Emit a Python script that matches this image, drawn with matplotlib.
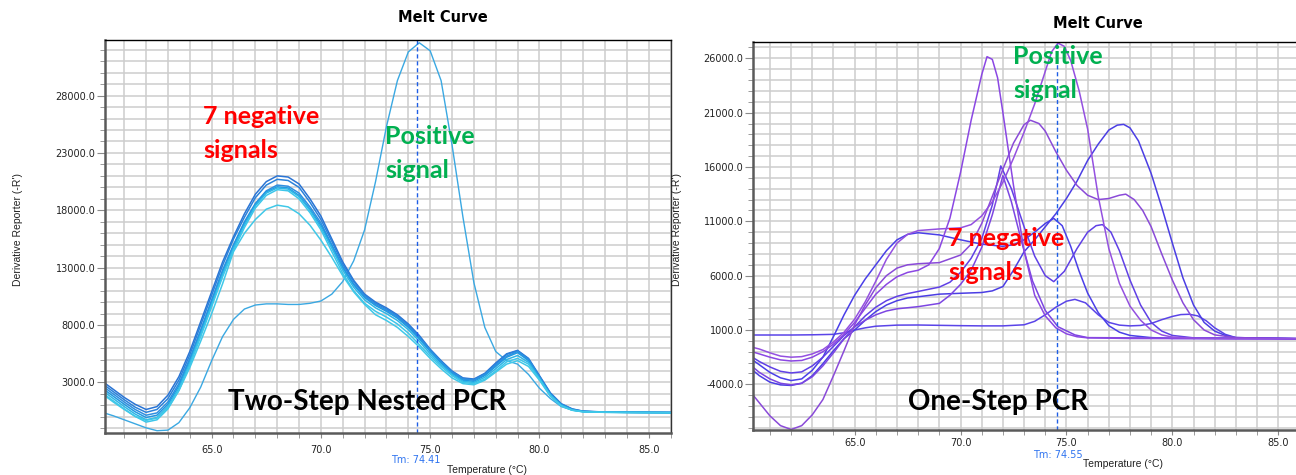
import matplotlib
matplotlib.use("Agg")
import matplotlib.pyplot as plt
from matplotlib.ticker import MultipleLocator, FormatStrFormatter

# ---------------- left panel : Two-Step Nested PCR ----------------
t_left = [60.0, 60.5, 61.0, 61.5, 62.0, 62.5, 63.0, 63.5, 64.0, 64.5, 65.0, 65.5,
          66.0, 66.5, 67.0, 67.5, 68.0, 68.5, 69.0, 69.5, 70.0, 70.5, 71.0, 71.5,
          72.0, 72.5, 73.0, 73.5, 74.0, 74.5, 75.0, 75.5, 76.0, 76.5, 77.0, 77.5,
          78.0, 78.5, 79.0, 79.5, 80.0, 80.5, 81.0, 81.5, 82.0, 83.0, 84.0, 85.0, 86.0]

neg1 = [3100, 2400, 1700, 1100, 650, 900, 1900, 3500, 5700, 8300, 10900, 13500,
        15700, 17700, 19400, 20500, 21000, 20900, 20300, 19000, 17500, 15500, 13500, 11900,
        10700, 10000, 9500, 8900, 8100, 7100, 5900, 4900, 4000, 3400, 3300, 3800,
        4700, 5500, 5800, 5100, 3600, 2100, 1150, 700, 500, 430, 410, 400, 390]
neg2 = [2900, 2200, 1500, 850, 400, 650, 1600, 3200, 5400, 8000, 10600, 13200,
        15500, 17400, 19100, 20200, 20700, 20600, 20000, 18700, 17200, 15300, 13300, 11800,
        10600, 9900, 9400, 8800, 8000, 7000, 5850, 4850, 3950, 3350, 3250, 3750,
        4600, 5450, 5750, 5050, 3550, 2050, 1100, 680, 490, 425, 405, 395, 385]
neg3 = [2700, 2000, 1300, 650, 150, 350, 1300, 2900, 5100, 7600, 10200, 12800,
        15000, 17000, 18600, 19700, 20200, 20100, 19500, 18300, 16900, 15000, 13100, 11600,
        10500, 9800, 9300, 8700, 7900, 6900, 5800, 4800, 3900, 3300, 3200, 3700,
        4500, 5300, 5700, 5000, 3500, 2000, 1100, 650, 480, 420, 400, 390, 380]
neg4 = [2500, 1800, 1100, 450, -50, 150, 1100, 2700, 4900, 7400, 10000, 12600,
        14900, 16900, 18500, 19600, 20050, 19950, 19300, 18100, 16700, 14900, 13000, 11500,
        10400, 9700, 9200, 8600, 7800, 6800, 5700, 4700, 3800, 3200, 3100, 3600,
        4400, 5200, 5600, 4900, 3400, 1950, 1050, 620, 470, 415, 400, 390, 380]
neg5 = [2300, 1600, 900, 250, -250, -50, 900, 2500, 4700, 7200, 9800, 12400,
        14700, 16700, 18400, 19500, 19950, 19850, 19200, 18000, 16500, 14700, 12800, 11300,
        10200, 9500, 9000, 8400, 7600, 6600, 5500, 4550, 3700, 3100, 3000, 3450,
        4200, 5000, 5350, 4750, 3350, 1900, 1000, 600, 460, 410, 395, 385, 375]
neg6 = [2100, 1400, 700, 50, -450, -250, 700, 2300, 4500, 7000, 9600, 12200,
        14500, 16500, 18200, 19300, 19800, 19700, 19000, 17800, 16300, 14400, 12500, 11000,
        9900, 9200, 8700, 8100, 7300, 6300, 5300, 4400, 3600, 3000, 2900, 3300,
        4000, 4800, 5100, 4600, 3300, 1850, 980, 590, 450, 405, 390, 380, 370]
neg7 = [2000, 1300, 650, 50, -300, -100, 800, 2300, 4300, 6600, 9000, 11600,
        14400, 16000, 17200, 18100, 18450, 18300, 17700, 16700, 15400, 13900, 12300, 10900,
        9800, 8900, 8400, 7800, 7000, 6100, 5100, 4200, 3400, 2900, 2800, 3200,
        3900, 4600, 4900, 4400, 3200, 1800, 950, 580, 440, 400, 385, 375, 365]
pos_left = [400, 100, -250, -600, -950, -1200, -1150, -500, 800, 2600, 4900, 7000,
            8500, 9400, 9750, 9850, 9850, 9800, 9800, 9900, 10100, 10700, 11800, 13600,
            16300, 20500, 25300, 29300, 31800, 32600, 31900, 29300, 23700, 17400, 11700, 7800,
            5700, 4900, 4600, 3700, 2500, 1600, 900, 600, 480, 420, 400, 390, 380]

neg_left = [neg1, neg2, neg3, neg4, neg5, neg6, neg7]
neg_left_colors = ['#2a74d4', '#2b82da', '#2f8fe0', '#2098e2', '#2fb6e6', '#3cc6ea', '#40c8e8']
tm_left = 74.41

# ---------------- right panel : One-Step PCR ----------------
a_t = [60.0, 60.5, 61.0, 61.5, 62.0, 62.5, 63.0, 63.5, 64.0, 64.5, 65.0, 65.5, 66.0, 66.5,
       67.0, 67.5, 68.0, 68.5, 69.0, 69.5, 70.0, 70.5, 71.0, 71.25, 71.5, 71.75, 72.0, 72.5,
       73.0, 73.5, 74.0, 74.5, 75.0, 75.5, 76.0, 78.0, 82.0, 86.0]
a_y = [-900, -1200, -1500, -1750, -1850, -1800, -1500, -1000, -300, 600, 1700, 3000, 4300, 5200,
       5900, 6300, 6500, 7000, 8500, 11300, 15500, 20300, 24500, 26150, 25900, 24200, 21000, 14300,
       8300, 4200, 2300, 1200, 650, 380, 280, 220, 200, 200]

b_t = [60.0, 60.5, 61.0, 61.5, 62.0, 62.5, 63.0, 63.5, 64.0, 64.5, 65.0, 65.5, 66.0, 66.5,
       67.0, 67.5, 68.0, 69.0, 70.0, 70.5, 71.0, 71.5, 72.0, 72.5, 73.0, 73.5, 74.0, 74.3,
       74.6, 74.9, 75.2, 75.6, 76.0, 76.5, 77.0, 77.5, 78.0, 78.5, 79.0, 79.5, 80.0, 81.0, 83.0, 86.0]
b_y = [-500, -750, -1100, -1400, -1500, -1450, -1200, -800, -100, 800, 2000, 3600, 5500, 7500,
       9000, 9800, 10150, 10300, 10400, 10700, 11500, 12800, 14600, 16800, 19200, 21800, 24800, 26600,
       27400, 27100, 25800, 23000, 19500, 13300, 8500, 5300, 3200, 1900, 1000, 550, 350, 250, 200, 200]

c_t = [60.0, 60.5, 61.0, 61.5, 62.0, 62.5, 63.0, 63.5, 64.0, 64.5, 65.0, 65.5, 66.0, 66.5,
       67.0, 67.5, 68.0, 69.0, 70.0, 70.5, 71.0, 71.5, 72.0, 72.5, 73.0, 73.3, 73.7, 74.0,
       74.5, 75.0, 75.5, 76.0, 76.5, 77.0, 77.5, 77.8, 78.2, 78.6, 79.0, 79.5, 80.0, 80.5,
       81.0, 81.5, 82.0, 83.0, 86.0]
c_y = [-4500, -5700, -6900, -7800, -8150, -7800, -6800, -5400, -3200, -900, 1500, 3300, 4900, 6000,
       6700, 7000, 7100, 7200, 7900, 8900, 10800, 13300, 15800, 18200, 19900, 20300, 20000, 19300,
       17400, 15700, 14300, 13400, 13000, 13100, 13400, 13500, 13000, 12000, 10500, 8000, 5600, 3500,
       1950, 1000, 550, 300, 200]

d_t = [60.0, 60.5, 61.0, 61.5, 62.0, 62.5, 63.0, 63.5, 64.0, 64.5, 65.0, 65.5, 66.0, 66.5,
       67.0, 67.5, 68.0, 69.0, 69.5, 70.0, 70.5, 71.0, 71.5, 71.9, 72.4, 73.0, 73.5, 74.0,
       74.4, 74.9, 75.5, 76.0, 76.4, 76.7, 77.1, 77.5, 78.0, 78.5, 79.0, 79.5, 80.0, 81.0, 86.0]
d_y = [-1300, -1900, -2400, -2800, -2950, -2850, -2300, -1500, -500, 500, 1300, 2300, 3100, 3700,
       4100, 4350, 4550, 4950, 5400, 6300, 7600, 9400, 12500, 16100, 14000, 10500, 7800, 6000,
       5450, 6400, 8500, 10000, 10600, 10700, 10000, 8300, 5600, 3300, 1700, 900, 500, 280, 200]

e_t = [60.0, 60.5, 61.0, 61.5, 62.0, 62.5, 63.0, 63.5, 64.0, 64.5, 65.0, 65.5, 66.0, 66.5,
       67.0, 67.5, 68.0, 69.0, 69.5, 70.0, 70.5, 71.0, 71.5, 72.0, 72.4, 72.9, 73.4, 74.0,
       74.6, 75.4, 76.0, 86.0]
e_y = [-2100, -2900, -3500, -3900, -4050, -3900, -3300, -2300, -1100, 200, 1300, 1900, 2400, 2750,
       2950, 3050, 3150, 3450, 4200, 5200, 6500, 8600, 11600, 15200, 12800, 9000, 5500, 2800,
       1300, 550, 300, 200]

f_t = [60.0, 60.5, 61.0, 61.5, 62.0, 62.5, 63.0, 63.5, 64.0, 64.5, 65.0, 65.5, 66.0, 66.5,
       67.0, 67.5, 68.0, 69.0, 70.0, 71.0, 72.0, 72.5, 73.0, 73.5, 74.0, 74.4, 74.8, 75.2,
       75.6, 76.0, 76.5, 77.0, 77.5, 78.0, 79.0, 80.0, 86.0]
f_y = [-1500, -2200, -2900, -3400, -3650, -3500, -2700, -1500, 400, 2400, 4200, 5700, 7000, 8300,
       9300, 9800, 9950, 9750, 9300, 8900, 8700, 8850, 9300, 10000, 10800, 11270, 10600, 8700,
       6400, 4400, 2600, 1400, 800, 500, 300, 230, 200]

g_t = [60.0, 60.5, 61.0, 61.5, 62.0, 62.5, 63.0, 63.5, 64.0, 64.5, 65.0, 65.5, 66.0, 66.5,
       67.0, 67.5, 68.0, 69.0, 70.0, 71.0, 71.5, 72.0, 72.5, 73.0, 73.5, 74.0, 74.5, 75.0,
       75.5, 76.0, 76.5, 77.0, 77.4, 77.7, 78.0, 78.4, 79.0, 79.5, 80.0, 80.5, 81.0, 81.5,
       82.0, 82.5, 83.0, 86.0]
g_y = [-2400, -3200, -3800, -4050, -4100, -3900, -3200, -2100, -900, 200, 1000, 1900, 2700, 3300,
       3700, 3950, 4060, 4300, 4380, 4450, 4600, 5000, 6500, 8200, 9300, 10500, 11700, 13100,
       14700, 16600, 18100, 19400, 19850, 19920, 19600, 18400, 15400, 12300, 9000, 5800, 3300, 1700,
       900, 500, 300, 200]

i_t = [60.0, 61.0, 62.0, 63.0, 64.0, 64.5, 65.0, 65.5, 66.0, 67.0, 68.0, 69.0, 70.0, 71.0,
       72.0, 73.0, 73.5, 74.0, 74.5, 75.0, 75.4, 75.9, 76.5, 77.0, 77.5, 78.0, 78.5, 79.0,
       79.5, 80.0, 80.4, 80.8, 81.2, 81.6, 82.0, 82.5, 83.0, 86.0]
i_y = [540, 540, 540, 560, 600, 750, 1000, 1200, 1350, 1450, 1460, 1430, 1400, 1380,
       1380, 1480, 1800, 2400, 3100, 3650, 3820, 3500, 2400, 1700, 1450, 1380, 1420, 1600,
       1950, 2250, 2420, 2450, 2300, 1850, 1200, 600, 300, 200]

right_curves = [(i_t, i_y, '#5a44e8'), (g_t, g_y, '#4b3ee4'), (f_t, f_y, '#4a3fe8'),
                (d_t, d_y, '#6040e6'), (e_t, e_y, '#7c46e2'), (c_t, c_y, '#8a4ad8'),
                (a_t, a_y, '#8b47e3'), (b_t, b_y, '#9450e0')]
tm_right = 74.55

W, H = 1296, 475
fig = plt.figure(figsize=(W / 100, H / 100), dpi=100)


def px_box(x0, y0, x1, y1):
    return [x0 / W, 1 - y1 / H, (x1 - x0) / W, (y1 - y0) / H]


def style_axes(ax, xlim, ylim, xpad):
    ax.set_xlim(*xlim)
    ax.set_ylim(*ylim)
    ax.xaxis.set_major_locator(MultipleLocator(5))
    ax.xaxis.set_minor_locator(MultipleLocator(1))
    ax.xaxis.set_major_formatter(FormatStrFormatter('%.1f'))
    ax.yaxis.set_major_locator(MultipleLocator(5000))
    ax.yaxis.set_minor_locator(MultipleLocator(1000))
    ax.yaxis.set_major_formatter(FormatStrFormatter('%.1f'))
    ax.grid(True, which='both', color='#cdcdcd', lw=1.1)
    ax.set_axisbelow(True)
    ax.tick_params(which='both', colors='#8a8a8a', labelcolor='#222222', labelsize=7, direction='out')
    ax.tick_params(axis='y', which='major', length=6, pad=1)
    ax.tick_params(axis='y', which='minor', length=3.5)
    ax.tick_params(axis='x', which='both', length=3.5, pad=xpad)
    for side in ['left', 'bottom']:
        ax.spines[side].set_color('#5a5a5a')
        ax.spines[side].set_linewidth(1.8)
    ax.spines['top'].set_color('black')
    ax.spines['top'].set_linewidth(1.0)
    ax.spines['right'].set_color('#333333')
    ax.spines['right'].set_linewidth(1.0)


# left chart
ax1 = fig.add_axes(px_box(105, 40, 671, 433))
style_axes(ax1, (60.12, 86.02), (-1400, 32840), 5)
ax1.set_yticks([3000, 8000, 13000, 18000, 23000, 28000])
ax1.plot(t_left, pos_left, color='#3aa8e2', lw=1.0)
for vals, col in zip(neg_left, neg_left_colors):
    ax1.plot(t_left, vals, color=col, lw=1.1)
ax1.axvline(tm_left, color='#1f5fe6', lw=1.0, ls=(0, (3, 2)))

# right chart (extends past the picture edge)
ax2 = fig.add_axes(px_box(753, 42, 1310, 430))
style_axes(ax2, (60.2, 86.5), (-8200, 27500), 2)
ax2.set_yticks([-4000, 1000, 6000, 11000, 16000, 21000, 26000])
for tt, yy, col in right_curves:
    ax2.plot(tt, yy, color=col, lw=1.1)
ax2.axvline(tm_right, color='#1f5fe6', lw=1.0, ls=(0, (3, 2)))

# titles and axis labels
fig.text(443 / W, 1 - 18 / H, 'Melt Curve', ha='center', va='center', fontsize=10.5, fontweight='bold')
fig.text(1098 / W, 1 - 24 / H, 'Melt Curve', ha='center', va='center', fontsize=10.5, fontweight='bold')
lab = dict(family='Liberation Sans', fontsize=7.5, color='#222222')
fig.text(18 / W, 1 - 229 / H, "Derivative Reporter (-R')", rotation=90, ha='center', va='center', **lab)
fig.text(677 / W, 1 - 229 / H, "Derivative Reporter (-R')", rotation=90, ha='center', va='center', **lab)
fig.text(487 / W, 1 - 470 / H, 'Temperature (°C)', ha='center', va='center', **lab)
fig.text(1123 / W, 1 - 464 / H, 'Temperature (°C)', ha='center', va='center', **lab)
fig.text(416 / W, 1 - 460 / H, 'Tm: 74.41', ha='center', va='center', fontsize=7, color='#2f74f0')
fig.text(1058 / W, 1 - 455 / H, 'Tm: 74.55', ha='center', va='center', fontsize=7, color='#2f74f0')

# annotations
note = dict(family='Lato', fontweight='bold', ha='left', va='center')
fig.text(203 / W, 1 - 116 / H, '7 negative', color='#ff0000', fontsize=18, **note)
fig.text(203 / W, 1 - 150 / H, 'signals', color='#ff0000', fontsize=18, **note)
fig.text(385 / W, 1 - 136 / H, 'Positive', color='#00b050', fontsize=18, **note)
fig.text(385 / W, 1 - 170 / H, 'signal', color='#00b050', fontsize=18, **note)
fig.text(228 / W, 1 - 402 / H, 'Two-Step Nested PCR', color='black', fontsize=20, **note)
fig.text(1013 / W, 1 - 56 / H, 'Positive', color='#00b050', fontsize=18, **note)
fig.text(1013 / W, 1 - 91 / H, 'signal', color='#00b050', fontsize=18, **note)
fig.text(948 / W, 1 - 238 / H, '7 negative', color='#ff0000', fontsize=18, **note)
fig.text(948 / W, 1 - 272 / H, 'signals', color='#ff0000', fontsize=18, **note)
fig.text(908 / W, 1 - 402 / H, 'One-Step PCR', color='black', fontsize=20, **note)

fig.savefig('out.png', dpi=100)
